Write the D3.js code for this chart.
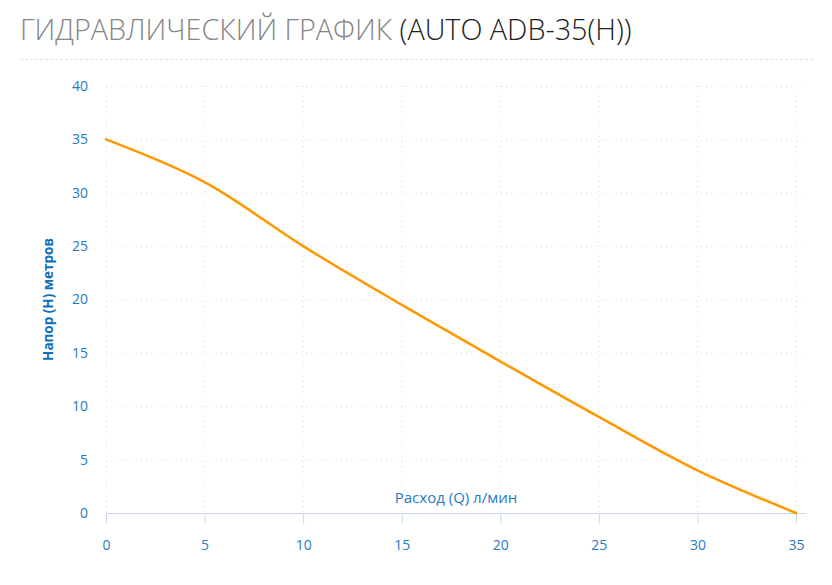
<!DOCTYPE html>
<html>
<head>
<meta charset="utf-8">
<script src="https://cdn.jsdelivr.net/npm/d3@7"></script>
<style>
  body { margin: 0; background: #fff; }
  svg { display: block; font-family: "Open Sans", sans-serif; }
</style>
</head>
<body>
<svg id="chart" width="832" height="585"></svg>
<script>
// flow (Q, l/min) vs head (H, m)
var flow = [0, 5, 10, 15, 20, 25, 30, 35];
var head = [35, 31, 25, 19.5, 14.2, 9, 4, 0];
var xTicks = [0, 5, 10, 15, 20, 25, 30, 35];
var yTicks = [0, 5, 10, 15, 20, 25, 30, 35, 40];

var titleGrey = "ГИДРАВЛИЧЕСКИЙ ГРАФИК ";
var titleDark = "(AUTO ADB-35(H))";
var xTitle = "Расход (Q) л/мин";
var yTitle = "Напор (Н) метров";

var svg = d3.select("#chart");
var plotLeft = 106, plotRight = 796, gridRight = 803, plotTop = 86, plotBottom = 513;
var blue = "#1e7bc4";

var x = d3.scaleLinear().domain([0, 35]).range([plotLeft, plotRight]);
var y = d3.scaleLinear().domain([0, 40]).range([plotBottom, plotTop]);

// title
var title = svg.append("text")
    .attr("x", 20).attr("y", 40)
    .attr("font-size", 29)
    .attr("font-weight", 300);
title.append("tspan").attr("fill", "#858585").text(titleGrey);
title.append("tspan").attr("fill", "#222").text(titleDark);
var tw = title.node().getComputedTextLength();
title.attr("transform", "translate(20,0) scale(" + (612 / tw) + ",1) translate(-20,0)");

svg.append("line")
    .attr("x1", 20).attr("x2", 815)
    .attr("y1", 59.5).attr("y2", 59.5)
    .attr("stroke", "#e2e2e2")
    .attr("stroke-dasharray", "3,2");

// grid
svg.append("g").selectAll("line").data(yTicks.filter(function(d){ return d > 0; }))
  .enter().append("line")
    .attr("x1", plotLeft).attr("x2", gridRight)
    .attr("y1", function(d){ return y(d) + 0.5; })
    .attr("y2", function(d){ return y(d) + 0.5; })
    .attr("stroke", "#dedede")
    .attr("stroke-dasharray", "1,4");

svg.append("g").selectAll("line").data(xTicks)
  .enter().append("line")
    .attr("x1", function(d){ return x(d) + 0.5; })
    .attr("x2", function(d){ return x(d) + 0.5; })
    .attr("y1", plotTop).attr("y2", plotBottom)
    .attr("stroke", "#dedede")
    .attr("stroke-dasharray", "1,4");

// x axis
var xAxis = svg.append("g")
    .attr("transform", "translate(0," + (plotBottom + 0.5) + ")")
    .call(d3.axisBottom(x).tickValues(xTicks).tickSize(10).tickPadding(17));
xAxis.select(".domain").attr("d", "M" + plotLeft + ",0H806").attr("stroke", "#ccd6eb");
xAxis.selectAll(".tick line").attr("stroke", "#ccd6eb");
xAxis.selectAll(".tick text").attr("fill", blue).attr("font-size", 14)
    .attr("font-family", "Open Sans, sans-serif");

// y axis
var yAxis = svg.append("g")
    .attr("transform", "translate(" + plotLeft + ",0)")
    .call(d3.axisLeft(y).tickValues(yTicks).tickSize(0).tickPadding(18));
yAxis.select(".domain").remove();
yAxis.selectAll(".tick text").attr("fill", blue).attr("font-size", 14)
    .attr("font-family", "Open Sans, sans-serif");

// axis titles
svg.append("text")
    .attr("x", (plotLeft + 806) / 2).attr("y", 503)
    .attr("text-anchor", "middle")
    .attr("fill", blue)
    .attr("font-size", 15)
    .text(xTitle);

svg.append("text")
    .attr("transform", "translate(53," + ((plotTop + plotBottom) / 2) + ") rotate(-90)")
    .attr("text-anchor", "middle")
    .attr("fill", "#0f70b7")
    .attr("font-size", 13.5)
    .attr("font-weight", "bold")
    .text(yTitle);

// curve
var line = d3.line()
    .x(function(d, i){ return x(flow[i]); })
    .y(function(d){ return y(d); })
    .curve(d3.curveCatmullRom.alpha(0.5));

svg.append("path")
    .attr("d", line(head))
    .attr("fill", "none")
    .attr("stroke", "#ff9800")
    .attr("stroke-width", 2.5)
    .attr("stroke-linecap", "round");
</script>
</body>
</html>
